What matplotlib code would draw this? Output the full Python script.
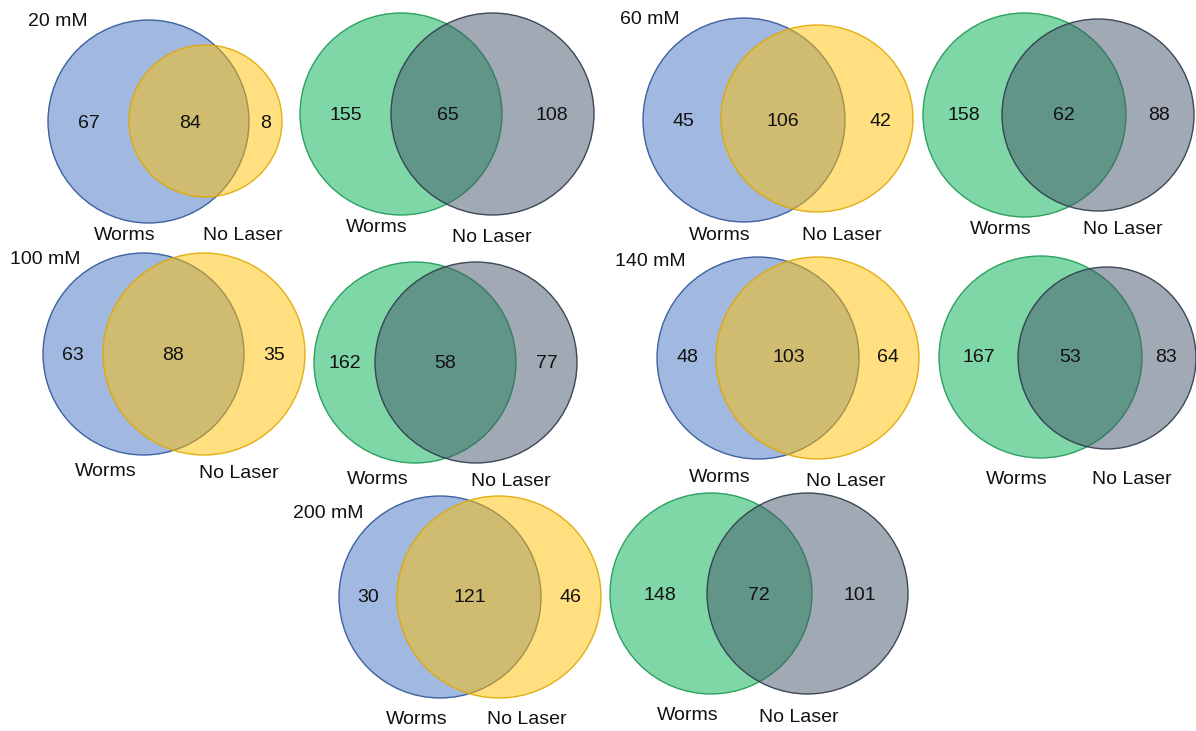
import matplotlib
matplotlib.use("Agg")
import matplotlib.pyplot as plt
from matplotlib.patches import Ellipse

plt.rcParams['font.family'] = ['Liberation Sans', 'DejaVu Sans']

# counts per concentration
conc = ['20 mM', '60 mM', '100 mM', '140 mM', '200 mM']
set_names = ['Worms', 'No Laser']

# blue / yellow diagrams
by_left = [67, 45, 63, 48, 30]
by_mid = [84, 106, 88, 103, 121]
by_right = [8, 42, 35, 64, 46]

# green / grey diagrams
gg_left = [155, 158, 162, 167, 148]
gg_mid = [65, 62, 58, 53, 72]
gg_right = [108, 88, 77, 83, 101]

# layout in pixels: circle1 (cx, cy, w, h), circle2 (cx, cy, w, h)
by_circles = [
    ((148.5, 121.5, 201, 203), (205.5, 121, 153, 152)),
    ((744, 120, 202, 204), (817, 118.5, 192, 187)),
    ((143.5, 354, 201, 202), (204, 354, 202, 202)),
    ((758, 358, 202, 202), (817.5, 358, 203, 202)),
    ((440, 597, 202, 202), (499, 597, 204, 202)),
]
gg_circles = [
    ((401, 114, 202, 202), (492.5, 114, 203, 202)),
    ((1024.5, 115, 203, 204), (1098, 115, 192, 192)),
    ((415, 362.5, 202, 201), (476, 362.5, 202, 201)),
    ((1040.5, 357, 203, 202), (1107, 358, 178, 182)),
    ((711, 593.5, 202, 201), (807.5, 593.5, 201, 201)),
]
# number positions: (x_left, x_mid, x_right, y)
by_numpos = [(89, 190, 266, 123), (683, 783, 880, 121), (73, 173, 274, 355),
             (687, 789, 888, 358), (368, 470, 570, 598)]
gg_numpos = [(346, 448, 552, 115), (964, 1064, 1159, 116), (345, 445, 547, 364),
             (979, 1070, 1166, 358), (660, 759, 860, 595)]
# set name positions: (worms x, worms y, nolaser x, nolaser y)
by_namepos = [(125, 235, 243, 235), (720, 235, 842, 235), (106, 472, 239, 474),
              (720, 477, 846, 481), (417, 719, 527, 720)]
gg_namepos = [(377, 228, 492, 237), (1001, 229, 1123, 229), (378, 479, 511, 481),
              (1017, 479, 1132, 479), (688, 716, 799, 717)]
title_pos = [(58, 21), (650, 20), (45, 259), (650, 262), (328, 514)]

colors_by = [('#4472C4', '#2F5597'), ('#FFC000', '#E0A800')]
colors_gg = [('#00B050', '#1E9A55'), ('#44546A', '#2E3A4A')]

fig = plt.figure(figsize=(11.96, 7.31), dpi=100)
ax = fig.add_axes([0, 0, 1, 1])
ax.set_xlim(0, 1196)
ax.set_ylim(731, 0)
ax.axis('off')

fs = 14


def draw_venn(circles, cols, nums, numpos, namepos):
    for (cx, cy, w, h), (fc, ec) in zip(circles, cols):
        ax.add_patch(Ellipse((cx, cy), w, h, facecolor=fc, alpha=0.5,
                             edgecolor='none'))
        ax.add_patch(Ellipse((cx, cy), w, h, facecolor='none',
                             edgecolor=ec, lw=1.0, alpha=0.9))
    xl, xm, xr, y = numpos
    for x, n in zip((xl, xm, xr), nums):
        ax.text(x, y, str(n), ha='center', va='center', fontsize=fs, color='#111111')
    wx, wy, nx, ny = namepos
    ax.text(wx, wy, set_names[0], ha='center', va='center', fontsize=fs, color='#111111')
    ax.text(nx, ny, set_names[1], ha='center', va='center', fontsize=fs, color='#111111')


for i in range(len(conc)):
    draw_venn(by_circles[i], colors_by, (by_left[i], by_mid[i], by_right[i]),
              by_numpos[i], by_namepos[i])
    draw_venn(gg_circles[i], colors_gg, (gg_left[i], gg_mid[i], gg_right[i]),
              gg_numpos[i], gg_namepos[i])
    tx, ty = title_pos[i]
    ax.text(tx, ty, conc[i], ha='center', va='center', fontsize=fs, color='#111111')

fig.savefig('out.png', dpi=100, facecolor='white')
